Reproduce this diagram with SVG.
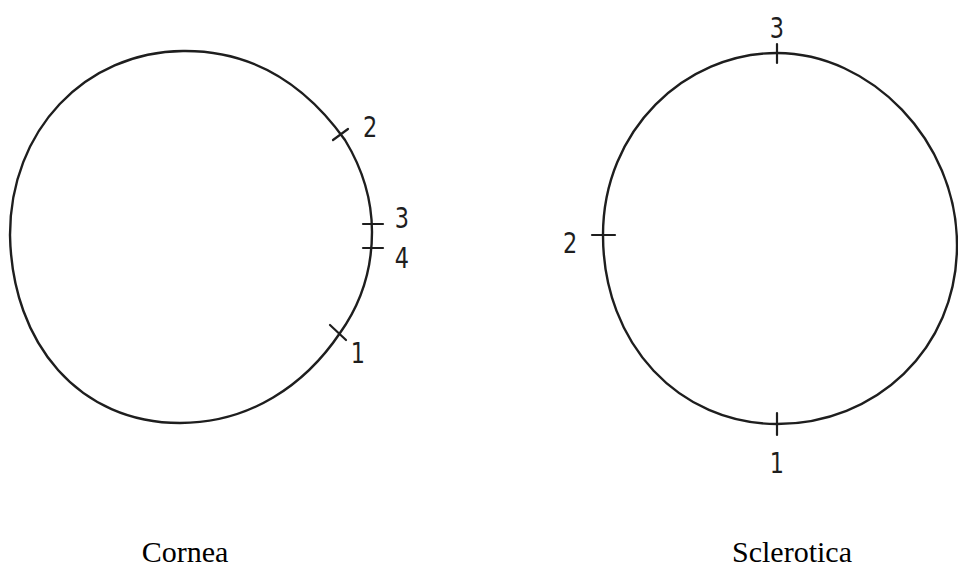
<svg xmlns="http://www.w3.org/2000/svg" width="958" height="570" viewBox="0 0 958 570">
<style>
.outline{fill:none;stroke:#1e1e1e;stroke-width:2.4;stroke-linecap:round}
.tick{stroke:#1e1e1e;stroke-width:2.2;stroke-linecap:round}
.num{font-family:"DejaVu Sans","Liberation Sans",sans-serif;font-size:28px;fill:#1e1e1e;text-anchor:middle}
.cap{font-family:"Liberation Serif","Times New Roman",serif;font-size:30px;fill:#000;text-anchor:middle}
</style>
<rect width="958" height="570" fill="#fff"/>
<g id="cornea">
<path class="outline" d="M183,51 C270,50 320,105 345,140 C362,168 372,200 372,232 C372,270 360,305 340,333 C305,385 250,423 180,423 C80,423 12,345 10,235 C10,130 85,52 183,51 Z"/>
<line class="tick" x1="333" y1="140" x2="348" y2="129"/>
<line class="tick" x1="363" y1="224" x2="383" y2="224"/>
<line class="tick" x1="363" y1="248" x2="383" y2="248"/>
<line class="tick" x1="330" y1="325" x2="346" y2="340"/>
<text class="num" x="370" y="137" transform="translate(370 0) scale(0.8 1) translate(-370 0)">2</text>
<text class="num" x="402" y="228" transform="translate(402 0) scale(0.8 1) translate(-402 0)">3</text>
<text class="num" x="402" y="268" transform="translate(402 0) scale(0.8 1) translate(-402 0)">4</text>
<text class="num" x="358" y="363" transform="translate(358 0) scale(0.8 1) translate(-358 0)">1</text>
<text class="cap" x="185" y="562">Cornea</text>
</g>
<g id="sclerotica">
<path class="outline" d="M777,53 C870,53 957,140 957,245 C957,350 875,424 777,424 C680,424 603,345 603,235 C603,130 685,53 777,53 Z"/>
<line class="tick" x1="777" y1="44" x2="777" y2="63"/>
<line class="tick" x1="592" y1="235" x2="615" y2="235"/>
<line class="tick" x1="777" y1="413" x2="777" y2="435"/>
<text class="num" x="777" y="38" transform="translate(777 0) scale(0.8 1) translate(-777 0)">3</text>
<text class="num" x="570" y="253" transform="translate(570 0) scale(0.8 1) translate(-570 0)">2</text>
<text class="num" x="777" y="473" transform="translate(777 0) scale(0.8 1) translate(-777 0)">1</text>
<text class="cap" x="792" y="562">Sclerotica</text>
</g>
</svg>
